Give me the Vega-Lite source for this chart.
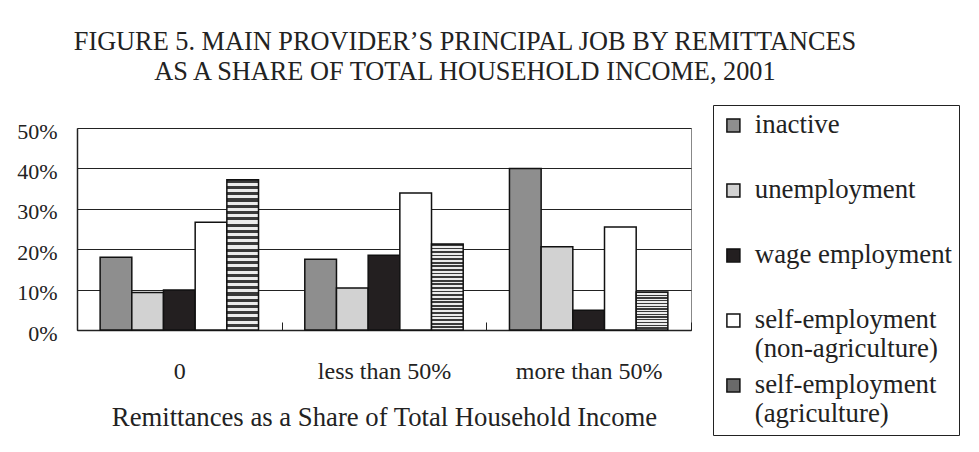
{
  "$schema": "https://vega.github.io/schema/vega-lite/v6.json",
  "width": 614,
  "height": 202,
  "autosize": "none",
  "padding": {"left": 77, "top": 128, "right": 288, "bottom": 122},
  "background": "white",
  "title": {
    "text": ["FIGURE 5. MAIN PROVIDER’S PRINCIPAL JOB BY REMITTANCES", "AS A SHARE OF TOTAL HOUSEHOLD INCOME, 2001"],
    "font": "Liberation Serif",
    "fontSize": 26.3,
    "fontWeight": "normal",
    "color": "#222",
    "lineHeight": 30,
    "anchor": "middle",
    "frame": "group",
    "dx": 81,
    "baseline": "bottom",
    "offset": -8
  },
  "data": {
    "values": [
      {"share": "0", "job": "inactive", "percent": 18.0},
      {"share": "0", "job": "unemployment", "percent": 9.3},
      {"share": "0", "job": "wage employment", "percent": 9.9},
      {"share": "0", "job": "self-employment (non-agriculture)", "percent": 26.7},
      {"share": "0", "job": "self-employment (agriculture)", "percent": 37.2},
      {"share": "less than 50%", "job": "inactive", "percent": 17.5},
      {"share": "less than 50%", "job": "unemployment", "percent": 10.4},
      {"share": "less than 50%", "job": "wage employment", "percent": 18.5},
      {"share": "less than 50%", "job": "self-employment (non-agriculture)", "percent": 33.9},
      {"share": "less than 50%", "job": "self-employment (agriculture)", "percent": 21.3},
      {"share": "more than 50%", "job": "inactive", "percent": 40.0},
      {"share": "more than 50%", "job": "unemployment", "percent": 20.6},
      {"share": "more than 50%", "job": "wage employment", "percent": 4.9},
      {"share": "more than 50%", "job": "self-employment (non-agriculture)", "percent": 25.5},
      {"share": "more than 50%", "job": "self-employment (agriculture)", "percent": 9.4}
    ]
  },
  "mark": {"type": "bar", "stroke": "#111", "strokeWidth": 1.5},
  "encoding": {
    "x": {
      "field": "share",
      "type": "nominal",
      "sort": ["0", "less than 50%", "more than 50%"],
      "scale": {"paddingInner": 0, "paddingOuter": 0},
      "axis": {
        "title": "Remittances as a Share of Total Household Income",
        "labelAngle": 0,
        "labelFont": "Liberation Serif",
        "labelFontSize": 24,
        "labelColor": "#222",
        "labelPadding": 37,
        "tickBand": "extent",
        "tickSize": -8,
        "tickColor": "#222",
        "domainColor": "#222",
        "domainWidth": 1.5,
        "titleFont": "Liberation Serif",
        "titleFontSize": 26.7,
        "titleFontWeight": "normal",
        "titleColor": "#222",
        "titlePadding": 21,
        "grid": false
      }
    },
    "xOffset": {
      "field": "job",
      "type": "nominal",
      "sort": ["inactive", "unemployment", "wage employment", "self-employment (non-agriculture)", "self-employment (agriculture)"],
      "scale": {"paddingInner": 0, "paddingOuter": 0.73}
    },
    "y": {
      "field": "percent",
      "type": "quantitative",
      "scale": {"domain": [0, 50]},
      "axis": {
        "title": null,
        "values": [0, 10, 20, 30, 40, 50],
        "labelExpr": "datum.value + '%'",
        "ticks": false,
        "labelPadding": 20,
        "labelFont": "Liberation Serif",
        "labelFontSize": 22,
        "labelColor": "#222",
        "labelOffset": 3,
        "domainColor": "#222",
        "domainWidth": 1.5,
        "gridColor": "#222",
        "gridWidth": 1
      }
    },
    "color": {
      "condition": {
        "test": "datum.job === 'self-employment (agriculture)'",
        "value": {"gradient": "linear", "x1": 0, "y1": 0, "x2": 0, "y2": 1, "stops": [
            {"offset": 0, "color": "#3a3a3a"}, {"offset": 0.0208, "color": "#3a3a3a"}, {"offset": 0.0208, "color": "#ececec"}, {"offset": 0.0417, "color": "#ececec"},
            {"offset": 0.0417, "color": "#3a3a3a"}, {"offset": 0.0625, "color": "#3a3a3a"}, {"offset": 0.0625, "color": "#ececec"}, {"offset": 0.0833, "color": "#ececec"},
            {"offset": 0.0833, "color": "#3a3a3a"}, {"offset": 0.1042, "color": "#3a3a3a"}, {"offset": 0.1042, "color": "#ececec"}, {"offset": 0.125, "color": "#ececec"},
            {"offset": 0.125, "color": "#3a3a3a"}, {"offset": 0.1458, "color": "#3a3a3a"}, {"offset": 0.1458, "color": "#ececec"}, {"offset": 0.1667, "color": "#ececec"},
            {"offset": 0.1667, "color": "#3a3a3a"}, {"offset": 0.1875, "color": "#3a3a3a"}, {"offset": 0.1875, "color": "#ececec"}, {"offset": 0.2083, "color": "#ececec"},
            {"offset": 0.2083, "color": "#3a3a3a"}, {"offset": 0.2292, "color": "#3a3a3a"}, {"offset": 0.2292, "color": "#ececec"}, {"offset": 0.25, "color": "#ececec"},
            {"offset": 0.25, "color": "#3a3a3a"}, {"offset": 0.2708, "color": "#3a3a3a"}, {"offset": 0.2708, "color": "#ececec"}, {"offset": 0.2917, "color": "#ececec"},
            {"offset": 0.2917, "color": "#3a3a3a"}, {"offset": 0.3125, "color": "#3a3a3a"}, {"offset": 0.3125, "color": "#ececec"}, {"offset": 0.3333, "color": "#ececec"},
            {"offset": 0.3333, "color": "#3a3a3a"}, {"offset": 0.3542, "color": "#3a3a3a"}, {"offset": 0.3542, "color": "#ececec"}, {"offset": 0.375, "color": "#ececec"},
            {"offset": 0.375, "color": "#3a3a3a"}, {"offset": 0.3958, "color": "#3a3a3a"}, {"offset": 0.3958, "color": "#ececec"}, {"offset": 0.4167, "color": "#ececec"},
            {"offset": 0.4167, "color": "#3a3a3a"}, {"offset": 0.4375, "color": "#3a3a3a"}, {"offset": 0.4375, "color": "#ececec"}, {"offset": 0.4583, "color": "#ececec"},
            {"offset": 0.4583, "color": "#3a3a3a"}, {"offset": 0.4792, "color": "#3a3a3a"}, {"offset": 0.4792, "color": "#ececec"}, {"offset": 0.5, "color": "#ececec"},
            {"offset": 0.5, "color": "#3a3a3a"}, {"offset": 0.5208, "color": "#3a3a3a"}, {"offset": 0.5208, "color": "#ececec"}, {"offset": 0.5417, "color": "#ececec"},
            {"offset": 0.5417, "color": "#3a3a3a"}, {"offset": 0.5625, "color": "#3a3a3a"}, {"offset": 0.5625, "color": "#ececec"}, {"offset": 0.5833, "color": "#ececec"},
            {"offset": 0.5833, "color": "#3a3a3a"}, {"offset": 0.6042, "color": "#3a3a3a"}, {"offset": 0.6042, "color": "#ececec"}, {"offset": 0.625, "color": "#ececec"},
            {"offset": 0.625, "color": "#3a3a3a"}, {"offset": 0.6458, "color": "#3a3a3a"}, {"offset": 0.6458, "color": "#ececec"}, {"offset": 0.6667, "color": "#ececec"},
            {"offset": 0.6667, "color": "#3a3a3a"}, {"offset": 0.6875, "color": "#3a3a3a"}, {"offset": 0.6875, "color": "#ececec"}, {"offset": 0.7083, "color": "#ececec"},
            {"offset": 0.7083, "color": "#3a3a3a"}, {"offset": 0.7292, "color": "#3a3a3a"}, {"offset": 0.7292, "color": "#ececec"}, {"offset": 0.75, "color": "#ececec"},
            {"offset": 0.75, "color": "#3a3a3a"}, {"offset": 0.7708, "color": "#3a3a3a"}, {"offset": 0.7708, "color": "#ececec"}, {"offset": 0.7917, "color": "#ececec"},
            {"offset": 0.7917, "color": "#3a3a3a"}, {"offset": 0.8125, "color": "#3a3a3a"}, {"offset": 0.8125, "color": "#ececec"}, {"offset": 0.8333, "color": "#ececec"},
            {"offset": 0.8333, "color": "#3a3a3a"}, {"offset": 0.8542, "color": "#3a3a3a"}, {"offset": 0.8542, "color": "#ececec"}, {"offset": 0.875, "color": "#ececec"},
            {"offset": 0.875, "color": "#3a3a3a"}, {"offset": 0.8958, "color": "#3a3a3a"}, {"offset": 0.8958, "color": "#ececec"}, {"offset": 0.9167, "color": "#ececec"},
            {"offset": 0.9167, "color": "#3a3a3a"}, {"offset": 0.9375, "color": "#3a3a3a"}, {"offset": 0.9375, "color": "#ececec"}, {"offset": 0.9583, "color": "#ececec"},
            {"offset": 0.9583, "color": "#3a3a3a"}, {"offset": 0.9792, "color": "#3a3a3a"}, {"offset": 0.9792, "color": "#ececec"}, {"offset": 1, "color": "#ececec"}
          ]}
      },
      "field": "job",
      "type": "nominal",
      "sort": ["inactive", "unemployment", "wage employment", "self-employment (non-agriculture)", "self-employment (agriculture)"],
      "scale": {
        "domain": ["inactive", "unemployment", "wage employment", "self-employment (non-agriculture)", "self-employment (agriculture)"],
        "range": ["#8e8e8e", "#d2d2d2", "#231f20", "#ffffff", "#6a6a6a"]
      },
      "legend": {
        "title": null,
        "orient": "none",
        "legendX": 636,
        "legendY": -23,
        "direction": "vertical",
        "symbolType": "square",
        "symbolSize": 169,
        "symbolStrokeColor": "#111",
        "symbolStrokeWidth": 1.5,
        "labelFont": "Liberation Serif",
        "labelFontSize": 26.8,
        "labelColor": "#222",
        "labelOffset": 8,
        "labelLimit": 400,
        "padding": 7,
        "rowPadding": 9,
        "strokeColor": "#222",
        "fillColor": "white",
        "labelExpr": "indexof(datum.label, ' (') > 0 ? [substring(datum.label, 0, indexof(datum.label, ' (')), substring(datum.label, indexof(datum.label, ' (') + 1)] : [datum.label, '']",
        "encode": {"labels": {"dy": {"value": 15}, "lineHeight": {"value": 31}}}
      }
    }
  },
  "config": {
    "view": {"stroke": "#888", "strokeWidth": 1},
    "font": "Liberation Serif"
  }
}
